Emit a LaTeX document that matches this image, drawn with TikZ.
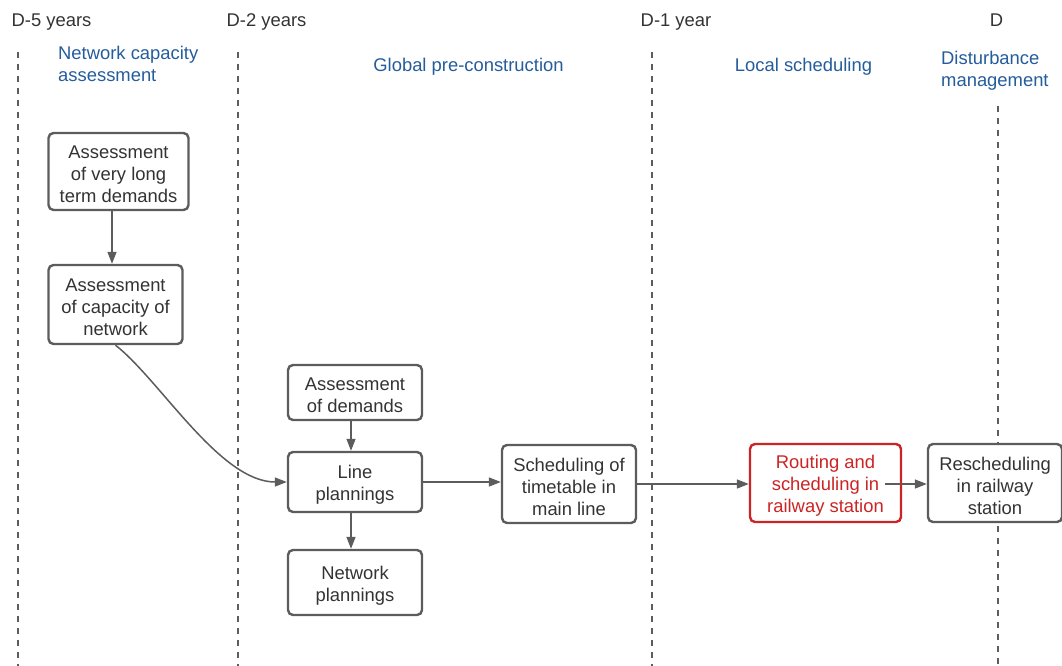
\documentclass[tikz,border=0pt]{standalone}
\usepackage{fontspec}
\setmainfont{Liberation Sans}
\usetikzlibrary{arrows.meta}
\definecolor{txt}{HTML}{333333}
\definecolor{edge}{HTML}{5C5C5C}
\definecolor{phase}{HTML}{245C9C}
\definecolor{hot}{HTML}{CC2424}
\newcommand{\boxtop}{\rule{0pt}{19pt}}
\tikzset{
  every node/.style={font=\fontsize{18.4pt}{22pt}\selectfont, text=txt, inner sep=0pt},
  box/.style={draw=edge, line width=2.4pt, rounded corners=5pt, fill=white, align=center},
  hotbox/.style={box, draw=hot, text=hot},
  arr/.style={draw=edge, line width=1.5pt, -{Triangle[length=12pt,width=9pt]}},
  timeline/.style={draw=edge, line width=1.3pt, dash pattern=on 6pt off 6pt},
  hdr/.style={anchor=base},
  phaselbl/.style={anchor=base west, text=phase, align=left},
}
\begin{document}
\begin{tikzpicture}[x=1pt,y=-1pt]
\useasboundingbox (0,0) rectangle (1062,666);
% timelines
\coordinate (t1a) at (18,52);  \coordinate (t1b) at (18,666);
\coordinate (t2a) at (238,52); \coordinate (t2b) at (238,666);
\coordinate (t3a) at (652,52); \coordinate (t3b) at (652,666);
\coordinate (t4a) at (998,106); \coordinate (t4b) at (998,666);
\draw[timeline] (t1a) -- (t1b);
\draw[timeline] (t2a) -- (t2b);
\draw[timeline] (t3a) -- (t3b);
\draw[timeline] (t4a) -- (t4b);
% headers
\node[hdr] (h1) at (51.5,26.5) {D-5 years};
\node[hdr] (h2) at (266.5,26.5) {D-2 years};
\node[hdr] (h3) at (676,26.5) {D-1 year};
\node[hdr] (h4) at (996.5,26.5) {D};
% phases
\node[phaselbl] (p1) at (58,82) {Network capacity\\assessment};
\node[anchor=base, text=phase] (p2) at (468.5,71.5) {Global pre-construction};
\node[anchor=base, text=phase] (p3) at (803.5,71.5) {Local scheduling};
\node[phaselbl] (p4) at (941,87) {Disturbance\\management};
% boxes
\node[box, minimum width=140pt, minimum height=77pt] (A1) at (118.5,171.5) {\boxtop Assessment\\of very long\\term demands};
\node[box, minimum width=134pt, minimum height=79pt] (A2) at (115.5,304.5) {\boxtop Assessment\\of capacity of\\network};
\node[box, minimum width=134pt, minimum height=55pt] (B1) at (355,392.5) {\boxtop Assessment\\of demands};
\node[box, minimum width=134pt, minimum height=60pt] (B2) at (355,482) {\boxtop Line\\plannings};
\node[box, minimum width=134pt, minimum height=65pt] (B3) at (355,582.5) {\boxtop Network\\plannings};
\node[box, minimum width=134pt, minimum height=78pt] (C) at (569,484) {\boxtop Scheduling of\\timetable in\\main line};
\node[hotbox, minimum width=151pt, minimum height=78pt] (D) at (825.5,483) {\boxtop Routing and\\scheduling in\\railway station};
\node[box, minimum width=134pt, minimum height=78pt] (E) at (995,483) {\boxtop Rescheduling\\in railway\\station};
% connectors
\draw[arr] ([xshift=-6.5pt]A1.south) -- ([xshift=-6.5pt]A1.south |- A2.north);
\draw[arr] (A2.south) .. controls (160,380) and (220,482) .. (B2.west);
\draw[arr] ([xshift=-4pt]B1.south) -- ([xshift=-4pt]B1.south |- B2.north);
\draw[arr] ([xshift=-4pt]B2.south) -- ([xshift=-4pt]B2.south |- B3.north);
\draw[arr] (B2.east) -- (B2.east -| C.west);
\draw[arr] (C.east) -- (C.east -| D.west);
\coordinate (dstart) at (885,484);
\draw[arr] (dstart) -- (dstart -| E.west);
\end{tikzpicture}
\end{document}
